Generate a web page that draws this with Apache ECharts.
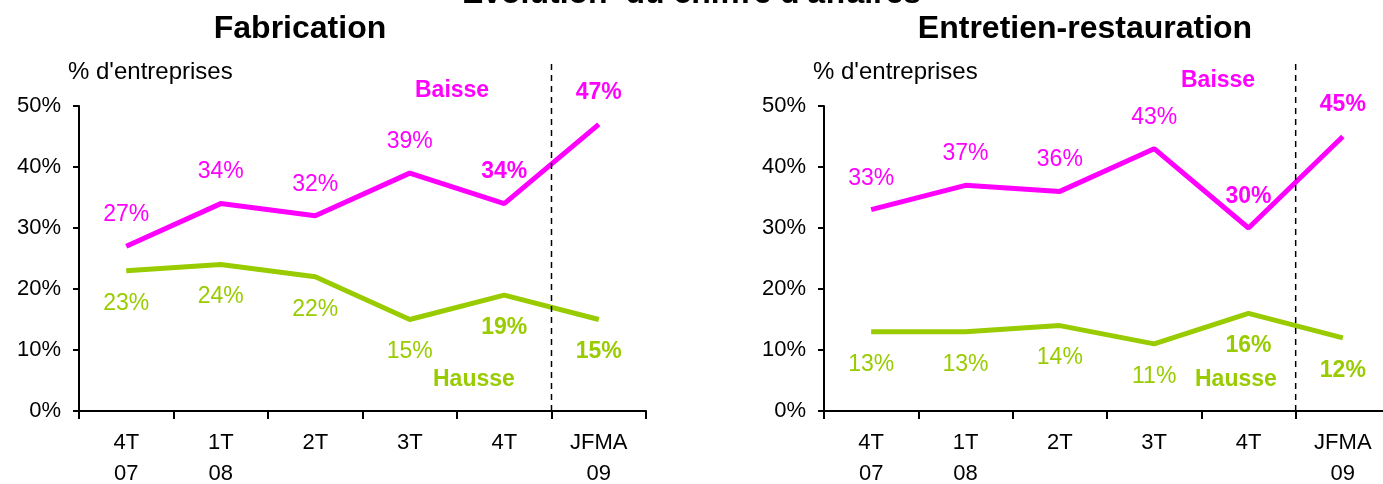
<!DOCTYPE html>
<html>
<head>
<meta charset="utf-8">
<script src="https://cdn.jsdelivr.net/npm/echarts@6/dist/echarts.min.js"></script>
<style>
html,body{margin:0;padding:0;background:#fff;}
#c{width:1383px;height:484px;}
</style>
</head>
<body>
<div id="c"></div>
<script>
// ---- Data ----
const categories = ['4T\n07', '1T\n08', '2T', '3T', '4T', 'JFMA\n09'];
const fabBaisse = [27, 34, 32, 39, 34, 47];
const fabHausse = [23, 24, 22, 15, 19, 15];
const entBaisse = [33, 37, 36, 43, 30, 45];
const entHausse = [13, 13, 14, 11, 16, 12];
const yMax = 50;
const yStep = 10;

// ---- Style ----
const FONT = "'Liberation Sans', Arial, Helvetica, sans-serif";
const MAGENTA = '#FF00FF';
const GREEN = '#99CC00';
const BOLD_FROM = 4; // last two points are emphasised

const chart = echarts.init(document.getElementById('c'), null, {renderer: 'canvas'});

function labelCfg(color, pos, dist) {
  return {
    show: true,
    position: pos,
    distance: dist,
    fontFamily: FONT,
    formatter: p => (p.dataIndex >= BOLD_FROM ? '{b|' : '{n|') + p.value + '%}',
    rich: {
      n: {color: color, fontSize: 23, fontFamily: FONT},
      b: {color: color, fontSize: 23, fontWeight: 'bold', fontFamily: FONT}
    }
  };
}

const grids = [], xAxes = [], yAxes = [], series = [];

function addChart(left, width, baisse, hausse) {
  const g = grids.length;
  grids.push({left: left, width: width, top: 106, bottom: 73, containLabel: false, outerBoundsMode: 'none'});
  grids.push({left: left, width: width, top: 60, bottom: 73, containLabel: false, outerBoundsMode: 'none'});
  xAxes.push({
    type: 'category', gridIndex: g, data: categories, boundaryGap: true,
    axisLine: {lineStyle: {color: '#000', width: 2}},
    axisTick: {show: true, length: 8, lineStyle: {color: '#000', width: 2}},
    axisLabel: {interval: 0, color: '#000', fontSize: 22, lineHeight: 31, margin: 16, fontFamily: FONT},
    splitLine: {show: false}
  });
  xAxes.push({type: 'value', gridIndex: g + 1, min: 0, max: categories.length, show: false});
  yAxes.push({
    type: 'value', gridIndex: g, min: 0, max: yMax, interval: yStep,
    axisLine: {show: true, lineStyle: {color: '#000', width: 2}},
    axisTick: {show: true, length: 6, lineStyle: {color: '#000', width: 2}},
    axisLabel: {color: '#000', fontSize: 22, margin: 18, fontFamily: FONT, formatter: v => v + '%'},
    splitLine: {show: false}
  });
  yAxes.push({type: 'value', gridIndex: g + 1, min: 0, max: 1, show: false});

  series.push({
    type: 'line', xAxisIndex: g, yAxisIndex: g, data: baisse,
    symbol: 'circle', symbolSize: 0, showSymbol: true,
    lineStyle: {color: MAGENTA, width: 5}, itemStyle: {color: MAGENTA},
    label: labelCfg(MAGENTA, 'top', 20), z: 3, animation: false
  });
  series.push({
    type: 'line', xAxisIndex: g, yAxisIndex: g, data: hausse,
    symbol: 'circle', symbolSize: 0, showSymbol: true,
    lineStyle: {color: GREEN, width: 5}, itemStyle: {color: GREEN},
    label: labelCfg(GREEN, 'bottom', 21), z: 3, animation: false
  });
  const split = categories.length - 1;
  series.push({
    type: 'line', xAxisIndex: g + 1, yAxisIndex: g + 1,
    data: [[split, 0], [split, 1]], symbol: 'none', silent: true,
    lineStyle: {color: '#000', width: 1.5, type: [6, 5]}, z: 4, animation: false
  });
}

addChart(79, 567, fabBaisse, fabHausse);
addChart(824, 566, entBaisse, entHausse);

function txt(text, left, top, size, color, weight, align) {
  return {
    text: text, left: left, top: top, textAlign: align || 'left',
    textStyle: {fontSize: size, color: color, fontWeight: weight || 'normal', fontFamily: FONT}
  };
}

const titles = [
  {text: 'Évolution  du chiffre d\'affaires', left: 'center', top: -22,
   textStyle: {fontSize: 32, fontWeight: 'bold', color: '#000', fontFamily: FONT}},
  {text: 'Fabrication', left: 300, top: 13, textAlign: 'center',
   textStyle: {fontSize: 32, fontWeight: 'bold', color: '#000', fontFamily: FONT}},
  {text: 'Entretien-restauration', left: 1085, top: 13, textAlign: 'center',
   textStyle: {fontSize: 32, fontWeight: 'bold', color: '#000', fontFamily: FONT}},
  txt('% d\'entreprises', 68, 60, 24, '#000'),
  txt('% d\'entreprises', 813, 60, 24, '#000'),
  txt('Baisse', 415, 79, 23, MAGENTA, 'bold'),
  txt('Baisse', 1181, 69, 23, MAGENTA, 'bold'),
  txt('Hausse', 433, 368, 23, GREEN, 'bold'),
  txt('Hausse', 1195, 368, 23, GREEN, 'bold')
];
titles.forEach(t => { t.padding = 0; });

chart.setOption({
  backgroundColor: '#fff',
  animation: false,
  title: titles,
  grid: grids,
  xAxis: xAxes,
  yAxis: yAxes,
  series: series
});
</script>
</body>
</html>
